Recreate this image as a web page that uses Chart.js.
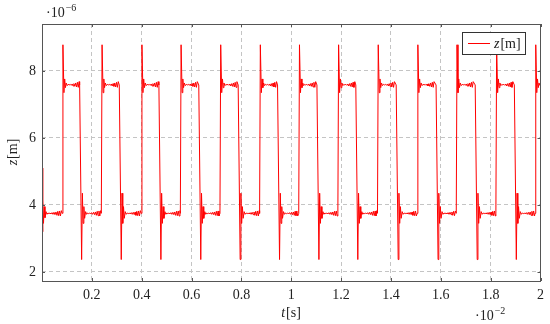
<!DOCTYPE html>
<html>
<head>
<meta charset="utf-8">
<script src="https://cdn.jsdelivr.net/npm/chart.js@4.4.0/dist/chart.umd.min.js"></script>
<style>
  html, body { margin: 0; padding: 0; background: #fff; }
</style>
</head>
<body>
<canvas id="zChart" width="550" height="324"></canvas>
<script>
// tick positions (t in 1e-2 s, z in 1e-6 m)
const xTicks = [0.2, 0.4, 0.6, 0.8, 1, 1.2, 1.4, 1.6, 1.8, 2];
const yTicks = [2, 4, 6, 8];

// edge times
const riseTimes = [0.081, 0.238, 0.398, 0.555, 0.714, 0.873, 1.030, 1.187, 1.346, 1.505, 1.662, 1.821, 1.978];
const fallTimes = [0.151, 0.310, 0.469, 0.629, 0.787, 0.945, 1.103, 1.259, 1.421, 1.581, 1.738, 1.895];

// first low stretch, from t = 0
const startDt = [0, 0.002, 0.004, 0.006, 0.009, 0.012, 0.016, 0.020, 0.024, 0.028, 0.032, 0.036, 0.040, 0.044, 0.048, 0.052, 0.056, 0.060, 0.0635, 0.067, 0.0705, 0.074, 0.0775];
const startZ  = [5.1, 3.2, 4.15, 3.45, 3.95, 3.62, 3.8, 3.72, 3.76, 3.74, 3.76, 3.73, 3.77, 3.72, 3.78, 3.71, 3.79, 3.69, 3.81, 3.68, 3.82, 3.67, 3.83];

// high pulse, time after each rise
const highDt = [0, 0.003, 0.007, 0.010, 0.013, 0.016, 0.020, 0.024, 0.028, 0.032, 0.036, 0.040, 0.0435, 0.047, 0.0505, 0.054, 0.0575, 0.061, 0.0645, 0.068];
const highZ  = [3.75, 8.78, 7.35, 7.76, 7.5, 7.64, 7.56, 7.6, 7.58, 7.6, 7.57, 7.61, 7.55, 7.62, 7.54, 7.64, 7.52, 7.66, 7.51, 7.68];

// low stretch, time after each fall
const lowDt = [0, 0.008, 0.011, 0.014, 0.017, 0.020, 0.024, 0.028, 0.032, 0.036, 0.040, 0.044, 0.048, 0.052, 0.056, 0.060, 0.0635, 0.067, 0.0705, 0.074, 0.0775, 0.081, 0.0845];
const lowZ  = [7.58, 2.37, 4.35, 3.45, 3.95, 3.6, 3.8, 3.72, 3.76, 3.74, 3.76, 3.73, 3.77, 3.72, 3.78, 3.71, 3.79, 3.69, 3.81, 3.68, 3.82, 3.67, 3.83];

// put the pieces together in time order
const points = [];
startDt.forEach((dt, i) => points.push({ x: dt, y: startZ[i] }));
riseTimes.forEach((r, k) => {
    const f = fallTimes[k];
    highDt.forEach((dt, i) => {
        if (f === undefined || r + dt < f) points.push({ x: r + dt, y: highZ[i] });
    });
    if (f !== undefined) {
        const next = riseTimes[k + 1];
        lowDt.forEach((dt, i) => {
            if (f + dt < next - 0.001) points.push({ x: f + dt, y: lowZ[i] });
        });
    }
});

const SERIF = "'Liberation Serif', 'DejaVu Serif', serif";
const FRAME = '#555';

// draws text pieces, some italic or raised, starting at x
function drawParts(ctx, parts, x, y) {
    parts.forEach(p => {
        ctx.font = (p.it ? 'italic ' : '') + (p.size || 14) + 'px ' + SERIF;
        ctx.fillText(p.t, x, y - (p.up || 0));
        x += ctx.measureText(p.t).width + (p.gap || 0);
    });
}
function partsWidth(ctx, parts) {
    let w = 0;
    parts.forEach(p => {
        ctx.font = (p.it ? 'italic ' : '') + (p.size || 14) + 'px ' + SERIF;
        w += ctx.measureText(p.t).width + (p.gap || 0);
    });
    return w;
}

const decorPlugin = {
    id: 'decor',
    afterDatasetsDraw(chart) {
        const ctx = chart.ctx;
        const a = chart.chartArea;
        const xs = chart.scales.x, ys = chart.scales.y;
        ctx.save();

        // frame with inner ticks
        ctx.strokeStyle = FRAME;
        ctx.lineWidth = 1;
        ctx.strokeRect(Math.round(a.left) + 0.5, Math.round(a.top) + 0.5,
            Math.round(a.right - a.left) - 1, Math.round(a.bottom - a.top));
        ctx.beginPath();
        xTicks.forEach(v => {
            const px = Math.round(xs.getPixelForValue(v)) + 0.5;
            ctx.moveTo(px, a.bottom); ctx.lineTo(px, a.bottom - 3);
            ctx.moveTo(px, a.top); ctx.lineTo(px, a.top + 3);
        });
        yTicks.forEach(v => {
            const py = Math.round(ys.getPixelForValue(v)) + 0.5;
            ctx.moveTo(a.left, py); ctx.lineTo(a.left + 3, py);
            ctx.moveTo(a.right, py); ctx.lineTo(a.right - 3, py);
        });
        ctx.stroke();

        // legend
        ctx.fillStyle = '#fff';
        ctx.fillRect(462, 32, 64, 22);
        ctx.strokeStyle = '#333';
        ctx.strokeRect(462.5, 32.5, 63, 22);
        ctx.strokeStyle = 'rgb(255,0,0)';
        ctx.beginPath();
        ctx.moveTo(468, 43.5); ctx.lineTo(490, 43.5);
        ctx.stroke();
        ctx.fillStyle = '#222';
        ctx.textBaseline = 'alphabetic';
        ctx.textAlign = 'left';
        drawParts(ctx, [{ t: 'z', it: true, gap: 1 }, { t: '[m]' }], 494, 48);

        // axis titles
        const tParts = [{ t: 't', it: true, gap: 1 }, { t: '[s]' }];
        drawParts(ctx, tParts, 291 - partsWidth(ctx, tParts) / 2, 317);
        const zParts = [{ t: 'z', it: true, gap: 1 }, { t: '[m]' }];
        ctx.save();
        ctx.translate(17, 152);
        ctx.rotate(-Math.PI / 2);
        drawParts(ctx, zParts, -partsWidth(ctx, zParts) / 2, 0);
        ctx.restore();

        // scale exponents
        drawParts(ctx, [{ t: '\u00b710', size: 14, gap: 1 }, { t: '\u22126', size: 10, up: 6 }], 46, 17);
        drawParts(ctx, [{ t: '\u00b710', size: 14, gap: 1 }, { t: '\u22122', size: 10, up: 6 }], 475, 320);

        ctx.restore();
    }
};

new Chart(document.getElementById('zChart').getContext('2d'), {
    type: 'line',
    data: {
        datasets: [{
            label: 'z[m]',
            data: points,
            borderColor: 'rgb(255, 0, 0)',
            borderWidth: 1,
            pointRadius: 0,
            tension: 0,
            fill: false
        }]
    },
    options: {
        responsive: false,
        animation: false,
        events: [],
        layout: { padding: { top: 24, right: 9, left: 0, bottom: 0 } },
        plugins: {
            legend: { display: false },
            tooltip: { enabled: false }
        },
        scales: {
            x: {
                type: 'linear',
                min: 0,
                max: 2,
                afterBuildTicks: axis => { axis.ticks = xTicks.map(v => ({ value: v })); },
                afterFit: scale => { scale.height = 43; },
                ticks: {
                    autoSkip: false,
                    maxRotation: 0,
                    padding: 6,
                    color: '#222',
                    font: { family: SERIF, size: 14 },
                    callback: v => String(+v.toFixed(1))
                },
                grid: { color: '#c4c4c4', lineWidth: 1, drawTicks: false },
                border: { display: false, dash: [4, 3] }
            },
            y: {
                type: 'linear',
                min: 1.73,
                max: 9.4,
                afterBuildTicks: axis => { axis.ticks = yTicks.map(v => ({ value: v })); },
                afterFit: scale => { scale.width = 42; },
                ticks: {
                    padding: 6,
                    color: '#222',
                    font: { family: SERIF, size: 14 }
                },
                grid: { color: '#c4c4c4', lineWidth: 1, drawTicks: false },
                border: { display: false, dash: [4, 3] }
            }
        }
    },
    plugins: [decorPlugin]
});
</script>
</body>
</html>
